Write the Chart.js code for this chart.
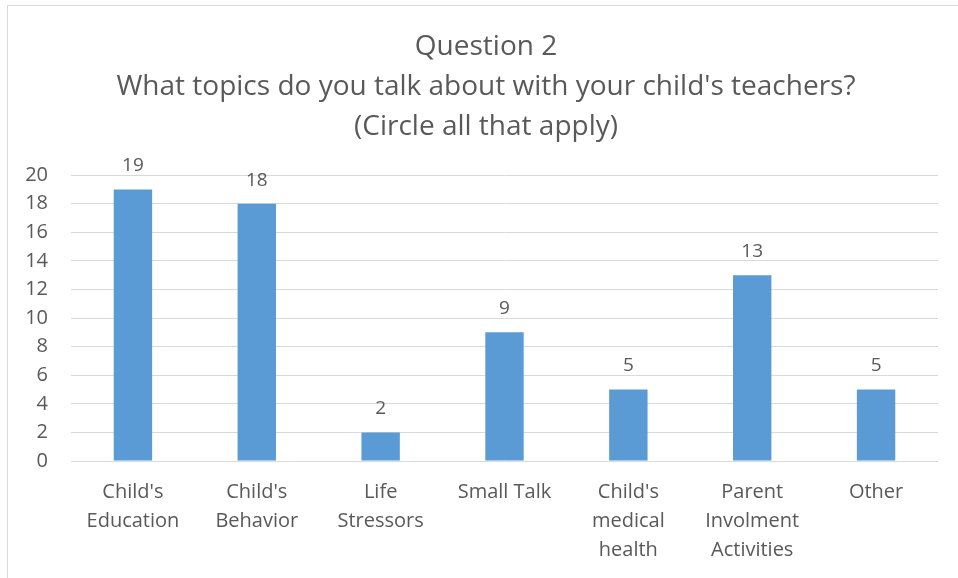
<!DOCTYPE html>
<html>
<head>
<meta charset="utf-8">
<script src="https://cdn.jsdelivr.net/npm/chart.js@4/dist/chart.umd.min.js"></script>
<style>
  html, body { margin: 0; padding: 0; background: #fff; overflow: hidden; width: 958px; height: 578px; }
  #frame {
    position: absolute; left: 7px; top: 5px; width: 1000px; height: 700px;
    border-left: 1px solid #d9d9d9; border-top: 1px solid #d9d9d9;
  }
  #wrap { position: absolute; left: 7px; top: 0; width: 958px; height: 578px; }
</style>
</head>
<body>
<div id="frame"></div>
<div id="wrap"><canvas id="chart" width="958" height="578"></canvas></div>
<script>
const titleLines = [
  "Question 2",
  "What topics do you talk about with your child's teachers?",
  "(Circle all that apply)"
];
const categories = [
  ["Child's", "Education"],
  ["Child's", "Behavior"],
  ["Life", "Stressors"],
  ["Small Talk"],
  ["Child's", "medical", "health"],
  ["Parent", "Involment", "Activities"],
  ["Other"]
];
const responses = [19, 18, 2, 9, 5, 13, 5];
const yTicks = [0, 2, 4, 6, 8, 10, 12, 14, 16, 18, 20];

const textColor = "#595959";
const fontFamily = "'Open Sans', 'Noto Sans', sans-serif";

// Writes each bar's value just above its top
const valueLabels = {
  id: "valueLabels",
  afterDatasetsDraw(chart) {
    const ctx = chart.ctx;
    const meta = chart.getDatasetMeta(0);
    ctx.save();
    ctx.fillStyle = textColor;
    ctx.font = "19px " + fontFamily;
    ctx.textAlign = "center";
    ctx.textBaseline = "bottom";
    meta.data.forEach((bar, i) => {
      ctx.fillText(String(chart.data.datasets[0].data[i]), bar.x, bar.y - 14);
    });
    ctx.restore();
  }
};

new Chart(document.getElementById("chart"), {
  type: "bar",
  data: {
    labels: categories,
    datasets: [{
      data: responses,
      backgroundColor: "#5b9bd5",
      borderWidth: 0,
      categoryPercentage: 1,
      barPercentage: 0.31
    }]
  },
  options: {
    responsive: false,
    animation: false,
    layout: { padding: 0 },
    plugins: {
      legend: { display: false },
      tooltip: { enabled: false },
      title: {
        display: true,
        text: titleLines,
        color: textColor,
        font: { family: fontFamily, size: 28, weight: "normal", lineHeight: 1.43 },
        padding: { top: 27, bottom: 28 }
      }
    },
    scales: {
      x: {
        grid: { display: false },
        border: { display: false },
        afterFit(axis) { axis.height = 117; },
        ticks: {
          color: textColor,
          font: { family: fontFamily, size: 20, lineHeight: 1.45 },
          maxRotation: 0,
          autoSkip: false,
          padding: 9
        }
      },
      y: {
        min: 0,
        max: 20,
        afterBuildTicks(axis) { axis.ticks = yTicks.map(v => ({ value: v })); },
        afterFit(axis) { axis.width = 64; },
        grid: { color: "#d9d9d9", lineWidth: 1, drawTicks: false },
        border: { display: false },
        ticks: {
          color: textColor,
          font: { family: fontFamily, size: 20 },
          padding: 23
        }
      },
      // empty right-hand margin beside the plot
      gutter: {
        position: "right",
        min: 0,
        max: 20,
        afterFit(axis) { axis.width = 27; },
        grid: { display: false },
        border: { display: false },
        ticks: { display: false }
      }
    }
  },
  plugins: [valueLabels]
});
</script>
</body>
</html>
